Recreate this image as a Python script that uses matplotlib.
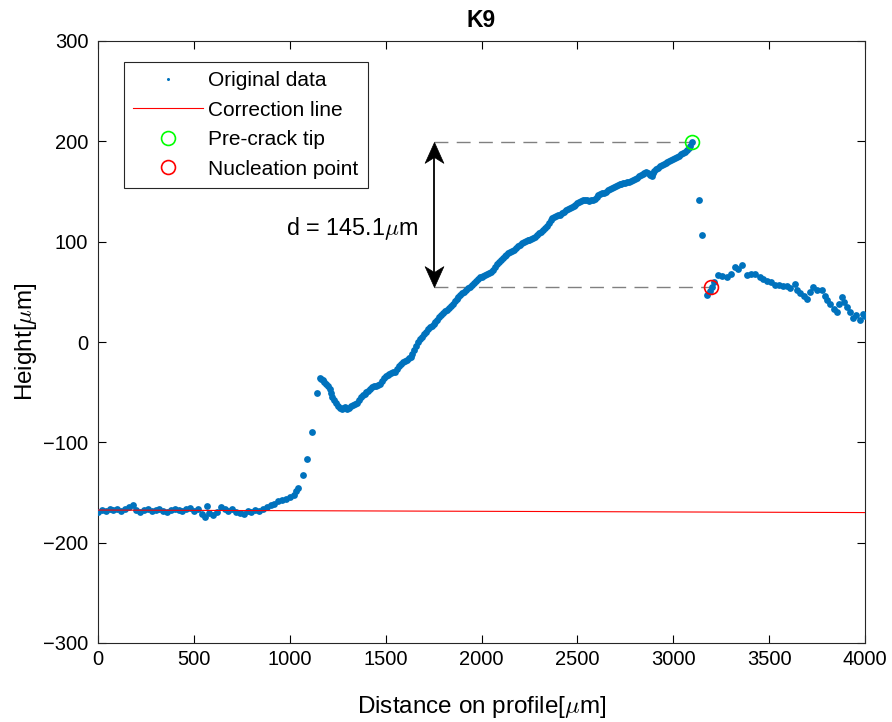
import matplotlib
matplotlib.use("Agg")
import matplotlib.pyplot as plt
from matplotlib.lines import Line2D
from matplotlib.path import Path

plt.rcParams['font.family'] = ['Liberation Sans', 'DejaVu Sans']
plt.rcParams['mathtext.fontset'] = 'cm'

# ---- data ----
# flat part of the profile, before the step
flat_x = [0, 20, 40, 60, 80, 100, 120, 140, 160, 180, 200, 220, 240, 260, 280, 300,
          320, 340, 360, 380, 400, 420, 440, 460, 480, 500, 520, 540, 560, 570, 580,
          600, 620, 640, 660, 680, 700, 720, 740, 760, 780, 800, 820, 840, 860, 880,
          900, 920, 940, 960, 980, 1000, 1020, 1035, 1045, 1067, 1088, 1114, 1144]
flat_y = [-169, -167, -168, -166, -167, -166, -168, -166, -164, -162, -167, -169,
          -167, -166, -168, -167, -166, -168, -169, -167, -166, -167, -168, -166,
          -165, -168, -166, -171, -174, -163, -170, -172, -169, -164, -166, -168,
          -166, -169, -170, -171, -168, -169, -167, -168, -166, -164, -162, -161,
          -158, -157, -156, -154, -152, -149, -146, -133, -117, -90, -51]

# rising part up to the pre-crack tip
rise_x = [1158, 1165, 1172, 1180, 1190, 1200, 1208, 1215, 1222, 1230, 1240, 1250,
          1260, 1270, 1280, 1290, 1300, 1310, 1320, 1330, 1340, 1350, 1360, 1370,
          1380, 1390, 1400, 1410, 1420, 1430, 1440, 1450, 1460, 1470, 1480, 1490,
          1500, 1510, 1520, 1530, 1540, 1550, 1560, 1570, 1580, 1590, 1600, 1610,
          1620, 1630, 1640, 1650, 1660, 1670, 1680, 1690, 1700, 1710, 1720, 1730,
          1740, 1750, 1760, 1770, 1780, 1790, 1800, 1810, 1820, 1830, 1840, 1850,
          1860, 1870, 1880, 1890, 1900, 1910, 1920, 1930, 1940, 1950, 1960, 1970,
          1980, 1990, 2000, 2010, 2020, 2030, 2040, 2050, 2060, 2070, 2080, 2090,
          2100, 2110, 2120, 2130, 2140, 2150, 2160, 2170, 2180, 2190, 2200, 2210,
          2220, 2230, 2240, 2250, 2260, 2270, 2280, 2290, 2300, 2310, 2320, 2330,
          2340, 2350, 2360, 2370, 2380, 2390, 2400, 2410, 2420, 2430, 2440, 2450,
          2460, 2470, 2480, 2490, 2500, 2510, 2520, 2530, 2540, 2550, 2560, 2570,
          2580, 2590, 2600, 2610, 2620, 2630, 2640, 2650, 2660, 2670, 2680, 2690,
          2700, 2710, 2720, 2730, 2740, 2750, 2760, 2770, 2780, 2790, 2800, 2810,
          2820, 2830, 2840, 2850, 2860, 2870, 2880, 2887, 2895, 2900, 2910, 2920,
          2930, 2940, 2950, 2960, 2970, 2980, 2990, 3000, 3010, 3020, 3030, 3040,
          3050, 3060, 3070, 3080, 3088, 3096]
rise_y = [-36, -37, -38, -40, -42, -44, -47, -51, -55, -58, -61, -64,
          -66, -67, -66, -65, -67, -66, -64, -63, -62, -61, -58, -55,
          -53, -52, -50, -49, -47, -45, -44, -44, -43, -42, -39, -36,
          -34, -33, -32, -31, -30, -30, -27, -24, -22, -20, -19, -18,
          -16, -15, -12, -8, -4, 0, 3, 5, 8, 10, 13, 15,
          16, 18, 20, 22, 25, 27, 29, 31, 32, 34, 36, 38,
          41, 43, 45, 47, 49, 50, 52, 54, 55, 57, 59, 61,
          63, 65, 65, 66, 67, 68, 69, 70, 72, 75, 78, 80,
          82, 84, 86, 87, 89, 90, 91, 92, 94, 96, 97, 99,
          100, 101, 102, 102, 103, 104, 105, 107, 109, 110, 112, 114,
          116, 119, 122, 124, 125, 126, 127, 127, 129, 130, 132, 133,
          134, 135, 136, 137, 139, 140, 141, 142, 142, 142, 141, 142,
          142, 143, 145, 147, 148, 149, 149, 150, 151, 152, 153, 154,
          155, 156, 157, 157, 158, 158, 159, 159, 160, 161, 162, 163,
          165, 166, 167, 168, 169, 168, 166, 165, 168, 170, 172, 173,
          175, 176, 177, 178, 179, 180, 181, 182, 183, 184, 185, 187,
          188, 189, 191, 193, 195, 199.6]

# part after the crack
tail_x = [3136, 3148, 3174, 3190, 3200, 3215, 3235, 3255, 3279, 3300, 3322, 3340,
          3360, 3383, 3405, 3426, 3450, 3470, 3490, 3510, 3530, 3550, 3570, 3591,
          3610, 3635, 3644, 3660, 3680, 3696, 3715, 3730, 3750, 3774, 3790, 3800,
          3820, 3840, 3852, 3865, 3878, 3890, 3905, 3920, 3939, 3955, 3974, 3991, 4000]
tail_y = [142, 107, 47, 51, 55, 60, 67, 66, 65, 68, 75, 73,
          77, 67, 68, 68, 65, 63, 61, 60, 57, 57, 56, 56,
          54, 58, 52, 49, 46, 43, 50, 55, 52, 52, 46, 42,
          38, 33, 30, 38, 45, 40, 35, 30, 24, 27, 22, 28, 26]

corr_x = [0, 4000]
corr_y = [-167.5, -170.0]

tip_x, tip_y = [3096], [199.6]
nuc_x, nuc_y = [3197], [54.5]
d_value = 145.1
arrow_x = 1750

blue = (0, 0.447, 0.741)
dist = flat_x + rise_x + tail_x
height = flat_y + rise_y + tail_y

fig = plt.figure(figsize=(8.92, 7.22), dpi=100)
ax = fig.add_axes([98/892, 1-643/722, 767/892, 602/722])

ax.plot(dist, height, linestyle='none', marker='o', ms=4.9, mfc=blue, mec='none', zorder=3)
ax.plot(corr_x, corr_y, color=(1, 0, 0), lw=0.8, zorder=4)
ax.plot(tip_x, tip_y, linestyle='none', marker='o', ms=10, mfc='none', mec=(0, 1, 0), mew=1.2, zorder=5)
ax.plot(nuc_x, nuc_y, linestyle='none', marker='o', ms=10, mfc='none', mec=(1, 0, 0), mew=1.2, zorder=5)

# dashed reference lines
ax.plot([arrow_x, tip_x[0]], [tip_y[0], tip_y[0]], color=(0.5, 0.5, 0.5), lw=1.0,
        dashes=(10, 6), zorder=2)
ax.plot([arrow_x, nuc_x[0]], [nuc_y[0], nuc_y[0]], color=(0.5, 0.5, 0.5), lw=1.0,
        dashes=(10, 6), zorder=2)

# double arrow with concave heads (marker shapes)
head_up = Path([(0, 0), (-0.45, -1.0), (0, -0.72), (0.45, -1.0), (0, 0)],
               [Path.MOVETO, Path.LINETO, Path.LINETO, Path.LINETO, Path.CLOSEPOLY])
head_dn = Path([(0, 0), (-0.45, 1.0), (0, 0.72), (0.45, 1.0), (0, 0)],
               [Path.MOVETO, Path.LINETO, Path.LINETO, Path.LINETO, Path.CLOSEPOLY])
ax.plot([arrow_x, arrow_x], [nuc_y[0] + 6, tip_y[0] - 6], color='black', lw=1.3, zorder=6)
ax.plot([arrow_x], [tip_y[0]], linestyle='none', marker=head_up, ms=30,
        mfc='black', mec='black', mew=0.5, zorder=7)
ax.plot([arrow_x], [nuc_y[0]], linestyle='none', marker=head_dn, ms=30,
        mfc='black', mec='black', mew=0.5, zorder=7)
ax.text(980, 113.6, 'd = %.1f$\\mu$m' % d_value, fontsize=16.8, va='center', ha='left')

ax.set_xlim(0, 4000)
ax.set_ylim(-300, 300)
ax.set_xticks([0, 500, 1000, 1500, 2000, 2500, 3000, 3500, 4000])
ax.set_yticks([-300, -200, -100, 0, 100, 200, 300])
ax.tick_params(direction='in', top=True, right=True, length=6, width=0.8,
               labelsize=14.5, colors='black')
ax.tick_params(axis='x', pad=5)
ax.tick_params(axis='y', pad=7)
for s in ax.spines.values():
    s.set_linewidth(0.8)
    s.set_color((0.15, 0.15, 0.15))

ax.set_title('K9', fontsize=16.5, fontweight='bold', pad=10)
ax.set_xlabel('Distance on profile[$\\mu$m]', fontsize=17.5, labelpad=18)
ax.set_ylabel('Height[$\\mu$m]', fontsize=17.5, labelpad=3)

handles = [
    Line2D([], [], linestyle='none', marker='o', ms=2.2, mfc=blue, mec='none'),
    Line2D([], [], color=(1, 0, 0), lw=0.8),
    Line2D([], [], linestyle='none', marker='o', ms=10, mfc='none', mec=(0, 1, 0), mew=1.2),
    Line2D([], [], linestyle='none', marker='o', ms=10, mfc='none', mec=(1, 0, 0), mew=1.2),
]
labels = ['Original data', 'Correction line', 'Pre-crack tip', 'Nucleation point']
leg = ax.legend(handles, labels, loc='upper left', bbox_to_anchor=(26/767, 1-21/602),
                borderaxespad=0, fontsize=15, handlelength=3.35, handletextpad=0.25,
                labelspacing=0.5, borderpad=0.45, fancybox=False, framealpha=1,
                edgecolor=(0.15, 0.15, 0.15))
leg.get_frame().set_linewidth(0.8)

fig.savefig('out.png', dpi=100)
